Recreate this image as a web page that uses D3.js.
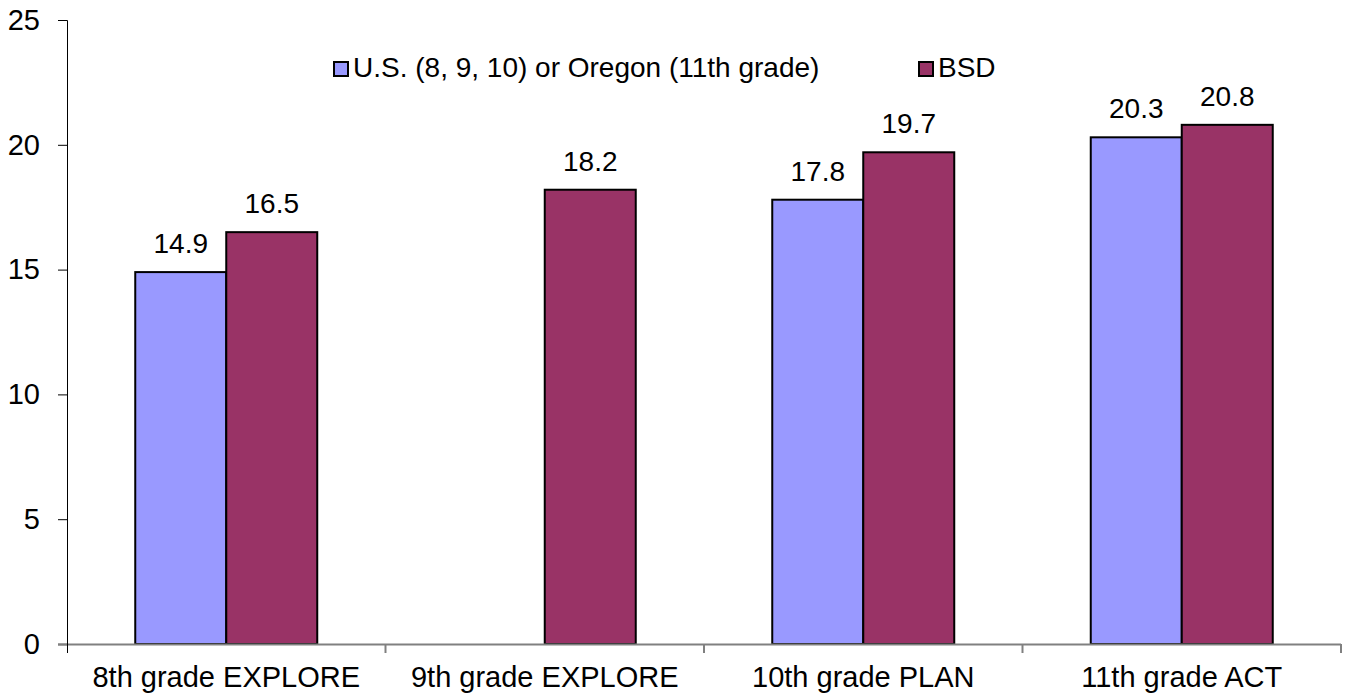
<!DOCTYPE html>
<html><head><meta charset="utf-8">
<script src="https://cdn.jsdelivr.net/npm/d3@7"></script>
<style>body{margin:0;background:#fff}svg{display:block}text{font-family:"Liberation Sans",Arial,sans-serif;fill:#000}</style>
</head><body><svg id="c" width="1346" height="694"></svg>
<script>
const categories = ["8th grade EXPLORE","9th grade EXPLORE","10th grade PLAN","11th grade ACT"];
const seriesNames = ["U.S. (8, 9, 10) or Oregon (11th grade)","BSD"];
const usValues = [14.9, null, 17.8, 20.3];
const bsdValues = [16.5, 18.2, 19.7, 20.8];
const yTicks = [0,5,10,15,20,25];
const colors = ["#9999FF","#993366"];

const svg = d3.select("#c");
const L = 67, R = 1341, T = 20, B = 644;
const fs = 29;
const x = d3.scaleBand().domain(categories).range([L,R]).paddingInner(0).paddingOuter(0);
const y = d3.scaleLinear().domain([0,25]).range([B,T]);
const groupW = x.bandwidth()/(1+0.75);
const x1 = d3.scaleBand().domain([0,1]).range([0,groupW]);

// bars
const data = categories.map((c,i)=>({c, vals:[usValues[i],bsdValues[i]]}));
const g = svg.append("g");
data.forEach(d=>{
  const gx = x(d.c) + (x.bandwidth()-groupW)/2;
  d.vals.forEach((v,j)=>{
    if(v==null) return;
    g.append("rect").attr("x",gx+x1(j)).attr("y",y(v)).attr("width",x1.bandwidth()).attr("height",B-y(v))
      .attr("fill",colors[j]).attr("stroke","#000").attr("stroke-width",2);
    g.append("text").attr("x",gx+x1(j)+x1.bandwidth()/2).attr("y",y(v)-19)
      .attr("text-anchor","middle").style("font-size","28px").text(v.toFixed(1));
  });
});

// x axis
const xAxis = svg.append("g").attr("transform",`translate(0,${B})`)
  .call(d3.axisBottom(x).tickSize(0).tickPadding(0));
xAxis.select(".domain").attr("d",`M${L-9},0.5H${R}`).attr("stroke","#808080").attr("stroke-width",2);
xAxis.selectAll("text").style("font-size",fs+"px").style("font-family","Liberation Sans, Arial, sans-serif")
  .attr("fill","#000").attr("y",43).attr("dy",0);
const bounds = categories.map(c=>x(c)).concat([R]).slice(1);
xAxis.selectAll(".sep").data(bounds).enter().append("line")
  .attr("x1",d=>d).attr("x2",d=>d).attr("y1",0).attr("y2",9).attr("stroke","#808080").attr("stroke-width",2);

// y axis
const yAxis = svg.append("g").attr("transform",`translate(${L},0)`)
  .call(d3.axisLeft(y).tickValues(yTicks).tickSize(9).tickPadding(18).tickFormat(d3.format("d")));
yAxis.selectAll("line").attr("stroke","#000").attr("stroke-width",1);
yAxis.selectAll(".tick").filter(d=>d===0).select("line").attr("stroke","#808080").attr("stroke-width",2);
yAxis.select(".domain").attr("d",`M-9,${T+0.5}H0.5V${B+9}`).attr("stroke","#000").attr("stroke-width",1);
yAxis.selectAll("text").style("font-size",fs+"px").style("font-family","Liberation Sans, Arial, sans-serif").attr("fill","#000");

// legend
const legend = svg.append("g");
const legX = [334, 919];
seriesNames.forEach((n,i)=>{
  legend.append("rect").attr("x",legX[i]).attr("y",62).attr("width",14).attr("height",14)
    .attr("fill",colors[i]).attr("stroke","#000").attr("stroke-width",2);
  legend.append("text").attr("x",legX[i]+19).attr("y",77).style("font-size","28px").text(n);
});
</script></body></html>
